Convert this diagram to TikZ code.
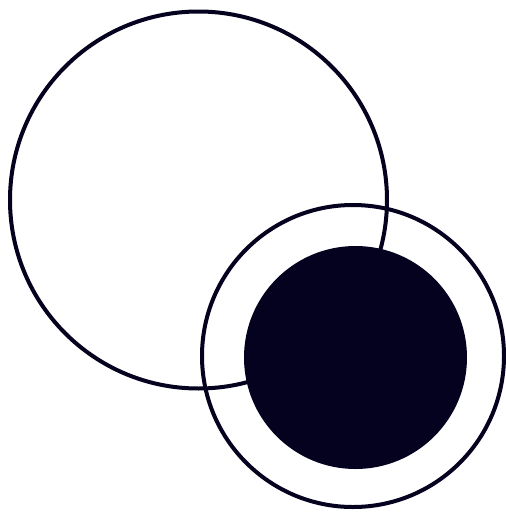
\documentclass[tikz,border=0pt]{standalone}
\usepackage{tikz}
\definecolor{ink}{RGB}{4,2,30}

\begin{document}
\begin{tikzpicture}[
  x=1pt, y=-1pt,
  ringline/.style={circle, draw=ink, line width=4pt, inner sep=0pt},
  core/.style={circle, fill=ink, inner sep=0pt},
]
% --- Canvas ---
\useasboundingbox[fill=white] (0,0) rectangle (506,512);

% --- Large circle (behind) ---
\node[ringline, minimum size=377pt] (big) at (198.5,200) {};

% --- Ring round the disk ---
\node[ringline, minimum size=302pt] (ring) at (353,356) {};

% --- Filled disk ---
\node[core, minimum size=223pt] (disk) at (355.5,357.5) {};
\end{tikzpicture}
\end{document}
